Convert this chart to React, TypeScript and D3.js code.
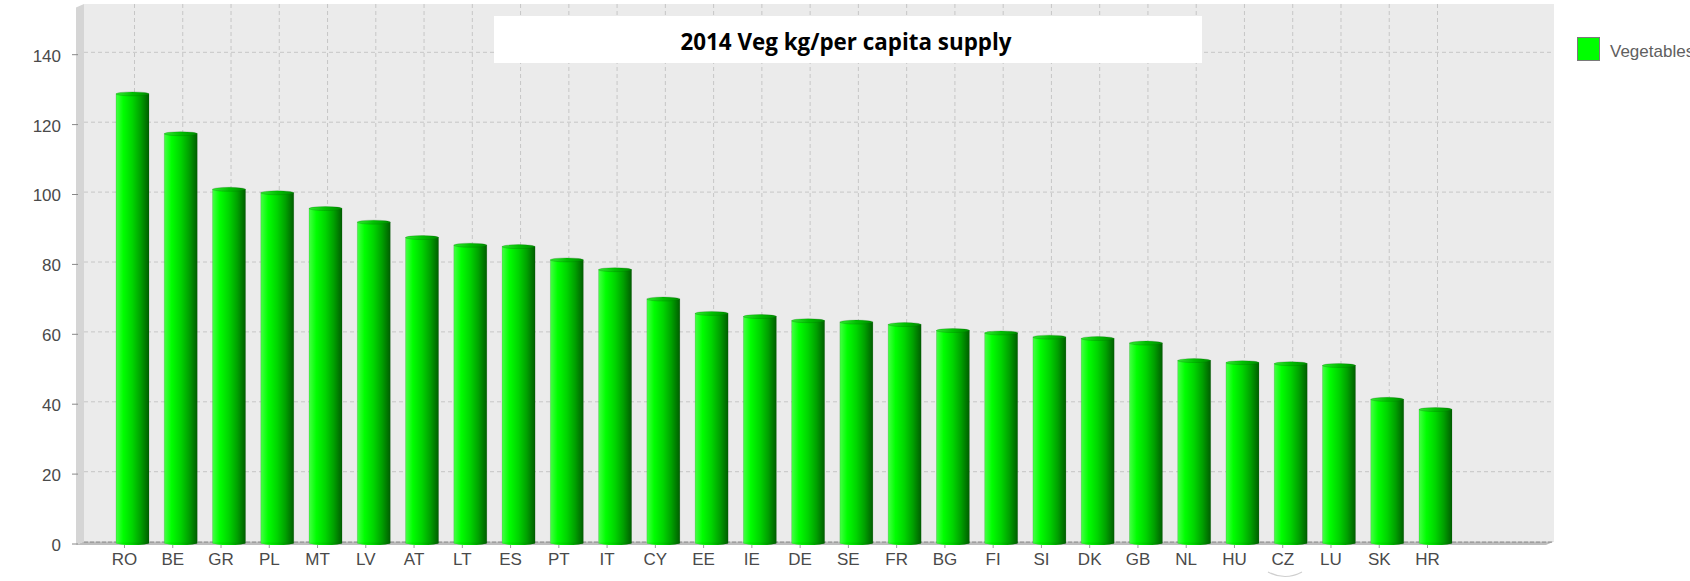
import React from "react";
import * as d3 from "d3";

const categories = ["RO","BE","GR","PL","MT","LV","AT","LT","ES","PT","IT","CY","EE","IE","DE","SE","FR","BG","FI","SI","DK","GB","NL","HU","CZ","LU","SK","HR"];
const vegetables = [128.1,116.7,100.8,99.8,95.3,91.4,87.0,84.8,84.4,80.6,77.8,69.4,65.3,64.4,63.2,62.8,62.1,60.4,59.7,58.5,58.1,56.8,51.8,51.2,50.9,50.4,40.7,37.8];
const yTicks = [0,20,40,60,80,100,120,140];
const titleText = "2014 Veg kg/per capita supply";
const seriesName = "Vegetables";

const W = 1690;
const H = 581;
const wallLeft = 84;
const wallRight = 1554;
const wallTop = 4;
const y0 = 541.6;
const dx = 8;
const dy = 3.4;

export default function App() {
  const y = d3.scaleLinear().domain([0, 140]).range([y0, y0 - 140 * 3.495]);
  const x = d3
    .scaleBand<string>()
    .domain(categories)
    .range([108.37, 1459.63])
    .paddingInner(0.316)
    .paddingOuter(0.158);
  const bw = x.bandwidth();
  const ry = 2;

  return (
    <div style={{ position: "fixed", left: 0, top: 0, width: W, height: H, background: "#fff" }}>
      <svg width={W} height={H} style={{ display: "block" }} fontFamily="'Liberation Sans', Arial, sans-serif">
        <defs>
          <linearGradient id="barGrad" x1="0" x2="1" y1="0" y2="0">
            <stop offset="0%" stopColor="#45ff45" />
            <stop offset="22%" stopColor="#00ff00" />
            <stop offset="50%" stopColor="#00d400" />
            <stop offset="75%" stopColor="#00a000" />
            <stop offset="100%" stopColor="#005e00" />
          </linearGradient>
          <linearGradient id="capGrad" x1="0" x2="1" y1="0" y2="0">
            <stop offset="0%" stopColor="#30e830" />
            <stop offset="50%" stopColor="#00c000" />
            <stop offset="100%" stopColor="#008a00" />
          </linearGradient>
        </defs>
        <rect x={0} y={0} width={W} height={H} fill="#ffffff" />
        {/* back wall */}
        <rect x={wallLeft} y={wallTop} width={wallRight - wallLeft} height={y0 - wallTop} fill="#ebebeb" />
        {/* left wall */}
        <polygon
          points={`${wallLeft - dx},${wallTop + dy} ${wallLeft},${wallTop} ${wallLeft},${y0} ${wallLeft - dx},${y0 + dy}`}
          fill="#d5d5d5"
        />
        {/* horizontal grid */}
        {yTicks.filter((t) => t > 0).map((t) => (
          <line key={"h" + t} x1={wallLeft} x2={wallRight} y1={y(t)} y2={y(t)} stroke="#c6c6c6" strokeWidth={1} strokeDasharray="4,3" />
        ))}
        {/* vertical grid */}
        {categories.map((c) => {
          const cx = (x(c) as number) + bw / 2 + 2;
          return <line key={"v" + c} x1={cx} x2={cx} y1={wallTop} y2={y0} stroke="#c6c6c6" strokeWidth={1} strokeDasharray="4,3" />;
        })}
        {/* floor */}
        <polygon
          points={`${wallLeft},${y0} ${wallRight},${y0} ${wallRight - dx},${y0 + dy} ${wallLeft - dx},${y0 + dy}`}
          fill="#bdbdbd"
        />
        <line x1={wallLeft} x2={wallRight} y1={y0 + 0.5} y2={y0 + 0.5} stroke="#8c8c8c" strokeWidth={1} strokeDasharray="4,2" />
        {/* y ticks */}
        {yTicks.map((t) => (
          <g key={"yt" + t}>
            <line x1={72} x2={78} y1={y(t) + 2.4} y2={y(t) + 2.4} stroke="#888" strokeWidth={1} />
            <text x={61} y={y(t) + 9.3} textAnchor="end" fontSize={17} fill="#4a4a4a">
              {t}
            </text>
          </g>
        ))}
        {/* bars */}
        {categories.map((c, i) => {
          const bx = x(c) as number;
          const top = y(vegetables[i]);
          const bottom = y0 + 1.5;
          return (
            <g key={"b" + c}>
              <ellipse cx={bx + bw / 2} cy={bottom} rx={bw / 2} ry={ry} fill="url(#barGrad)" />
              <rect x={bx} y={top} width={bw} height={bottom - top} fill="url(#barGrad)" stroke="rgba(0,60,0,0.18)" strokeWidth={0.8} />
              <ellipse cx={bx + bw / 2} cy={top} rx={bw / 2} ry={ry} fill="url(#capGrad)" stroke="rgba(0,90,0,0.35)" strokeWidth={0.6} />
            </g>
          );
        })}
        {/* x ticks and labels */}
        {categories.map((c) => {
          const lx = (x(c) as number) + bw / 2 - 8;
          return (
            <g key={"xl" + c}>
              <line x1={lx} x2={lx} y1={y0 + dy} y2={y0 + dy + 3} stroke="#999" strokeWidth={1} />
              <text x={lx} y={565} textAnchor="middle" fontSize={17} fill="#4a4a4a">
                {c}
              </text>
            </g>
          );
        })}
        {/* small arc artifact below CZ */}
        <path d="M1268,572 Q1285,581 1302,572" fill="none" stroke="#cfcfcf" strokeWidth={1.2} />
        {/* title */}
        <rect x={494} y={16} width={708} height={47} fill="#ffffff" />
        <text
          x={846}
          y={50}
          textAnchor="middle"
          fontFamily="'Open Sans', 'Liberation Sans', sans-serif"
          fontWeight="bold"
          fontSize={23}
          textLength={331}
          lengthAdjust="spacingAndGlyphs"
          fill="#000"
        >
          {titleText}
        </text>
        {/* legend */}
        <rect x={1577.5} y={37.5} width={22} height={23} fill="#00ff00" stroke="#7a7a7a" strokeWidth={1} />
        <text x={1610} y={57} fontSize={17} fill="#606060">
          {seriesName}
        </text>
      </svg>
    </div>
  );
}
